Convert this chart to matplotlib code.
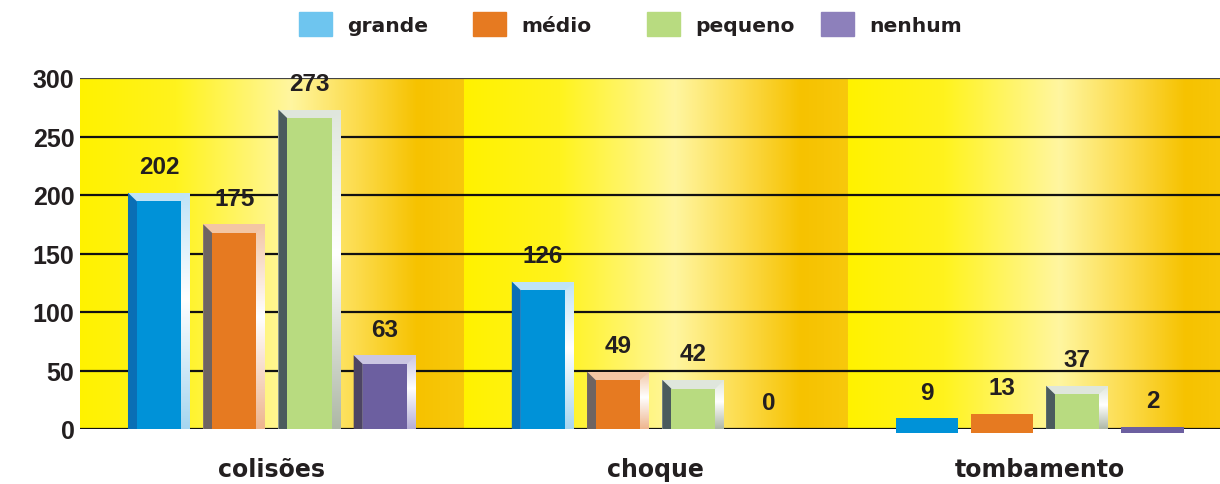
import numpy as np
import matplotlib
matplotlib.use("Agg")
import matplotlib.pyplot as plt
from matplotlib.colors import LinearSegmentedColormap
from matplotlib.patches import Polygon, Rectangle

categories = ["colisões", "choque", "tombamento"]
series = ["grande", "médio", "pequeno", "nenhum"]
grande = [202, 126, 9]
medio = [175, 49, 13]
pequeno = [273, 42, 37]
nenhum = [63, 0, 2]
values = [grande, medio, pequeno, nenhum]
yticks = [0, 50, 100, 150, 200, 250, 300]

face_colors = ["#0092d8", "#e67a21", "#b8db80", "#6c5fa0"]
side_colors = ["#0a6fb5", "#6e6462", "#4b5b5d", "#4d4563"]
rim_colors = ["#bfe3f7", "#f3c6a4", "#dfe6dc", "#cbc6e2"]
rim_low = ["#a6d6f0", "#eeb58e", "#aeb8a6", "#b5aed6"]
legend_colors = ["#6ec5ef", "#e67a21", "#b8db80", "#8d80bb"]
txt = "#231f20"

W, H = 1220, 485
fig = plt.figure(figsize=(W / 100, H / 100), dpi=100)
ax = fig.add_axes([80 / W, 55 / H, 1140 / W, 351 / H])

# background gradient per group
bg = LinearSegmentedColormap.from_list("bg", [
    (0.0, "#fff200"), (0.25, "#fff31e"), (0.55, "#fff6a0"),
    (0.72, "#fcdc4e"), (0.88, "#f6c200"), (1.0, "#f8c80c")])
grad = np.linspace(0, 1, 256).reshape(1, -1)
for g in range(len(categories)):
    ax.imshow(grad, extent=(g - 0.5, g + 0.5, 0, 300), aspect="auto",
              cmap=bg, zorder=0)

for y in yticks:
    ax.axhline(y, color="#111111" if y < 300 else "#444444", lw=1.6, zorder=1)

step = 0.196
width = 0.162
sx = width * 9 / 62
sy = 7.5
vgrad = np.linspace(0, 1, 128).reshape(-1, 1)

for i, vals in enumerate(values):
    xs = np.arange(len(categories)) + (i - 1.5) * step
    shine = LinearSegmentedColormap.from_list(
        "sh%d" % i, [(0, rim_low[i]), (0.55, "#ffffff"), (1, rim_colors[i])])
    for x, v in zip(xs, vals):
        x0, x1 = x - width / 2, x + width / 2
        if v < 20:
            if v > 0:
                ax.bar(x, v + 3, width, bottom=-3, color=face_colors[i],
                       zorder=3, clip_on=False)
        else:
            ax.bar(x, v, width, color=rim_colors[i], zorder=2)
            ax.add_patch(Polygon([(x0, 0), (x0, v), (x0 + sx, v - sy), (x0 + sx, 0)],
                                 closed=True, color=side_colors[i], lw=0, zorder=3))
            ax.bar(x0 + sx, v - sy, width - 2 * sx, align="edge",
                   color=face_colors[i], zorder=3)
            rp = Polygon([(x1, v), (x1, 0), (x1 - sx, 0), (x1 - sx, v - sy)],
                         closed=True, fill=False, lw=0)
            ax.add_patch(rp)
            im = ax.imshow(vgrad, extent=(x1 - sx, x1, 0, v), origin="lower",
                           aspect="auto", cmap=shine, zorder=3)
            im.set_clip_path(rp)
        ax.annotate(str(v), (x, v), xytext=(0, 26), textcoords="offset pixels",
                    ha="center", va="center", fontsize=17.5, fontweight="bold",
                    family="Liberation Sans", color=txt, zorder=5)

ax.set_xlim(-0.5, 2.47)
ax.set_ylim(0, 300)
ax.set_yticks(yticks)
ax.set_yticklabels([str(t) for t in yticks], fontsize=18, fontweight="bold",
                   family="Liberation Sans", color=txt)
ax.set_xticks(range(len(categories)))
ax.set_xticklabels(categories, fontsize=17, fontweight="bold",
                   family="DejaVu Sans", color=txt)
ax.tick_params(axis="y", length=0, pad=4)
ax.tick_params(axis="x", length=0, pad=20)
for s in ax.spines.values():
    s.set_visible(False)

# legend on top
for i, name in enumerate(series):
    px = 299 + i * 174
    fig.patches.append(Rectangle((px / W, 1 - 37 / H), 33 / W, 24 / H,
                                 transform=fig.transFigure, color=legend_colors[i]))
    fig.text((px + 48) / W, 1 - 26 / H, name, fontsize=14.6, fontweight="bold",
             family="DejaVu Sans", color=txt, va="center")

fig.savefig("out.png", dpi=100)
